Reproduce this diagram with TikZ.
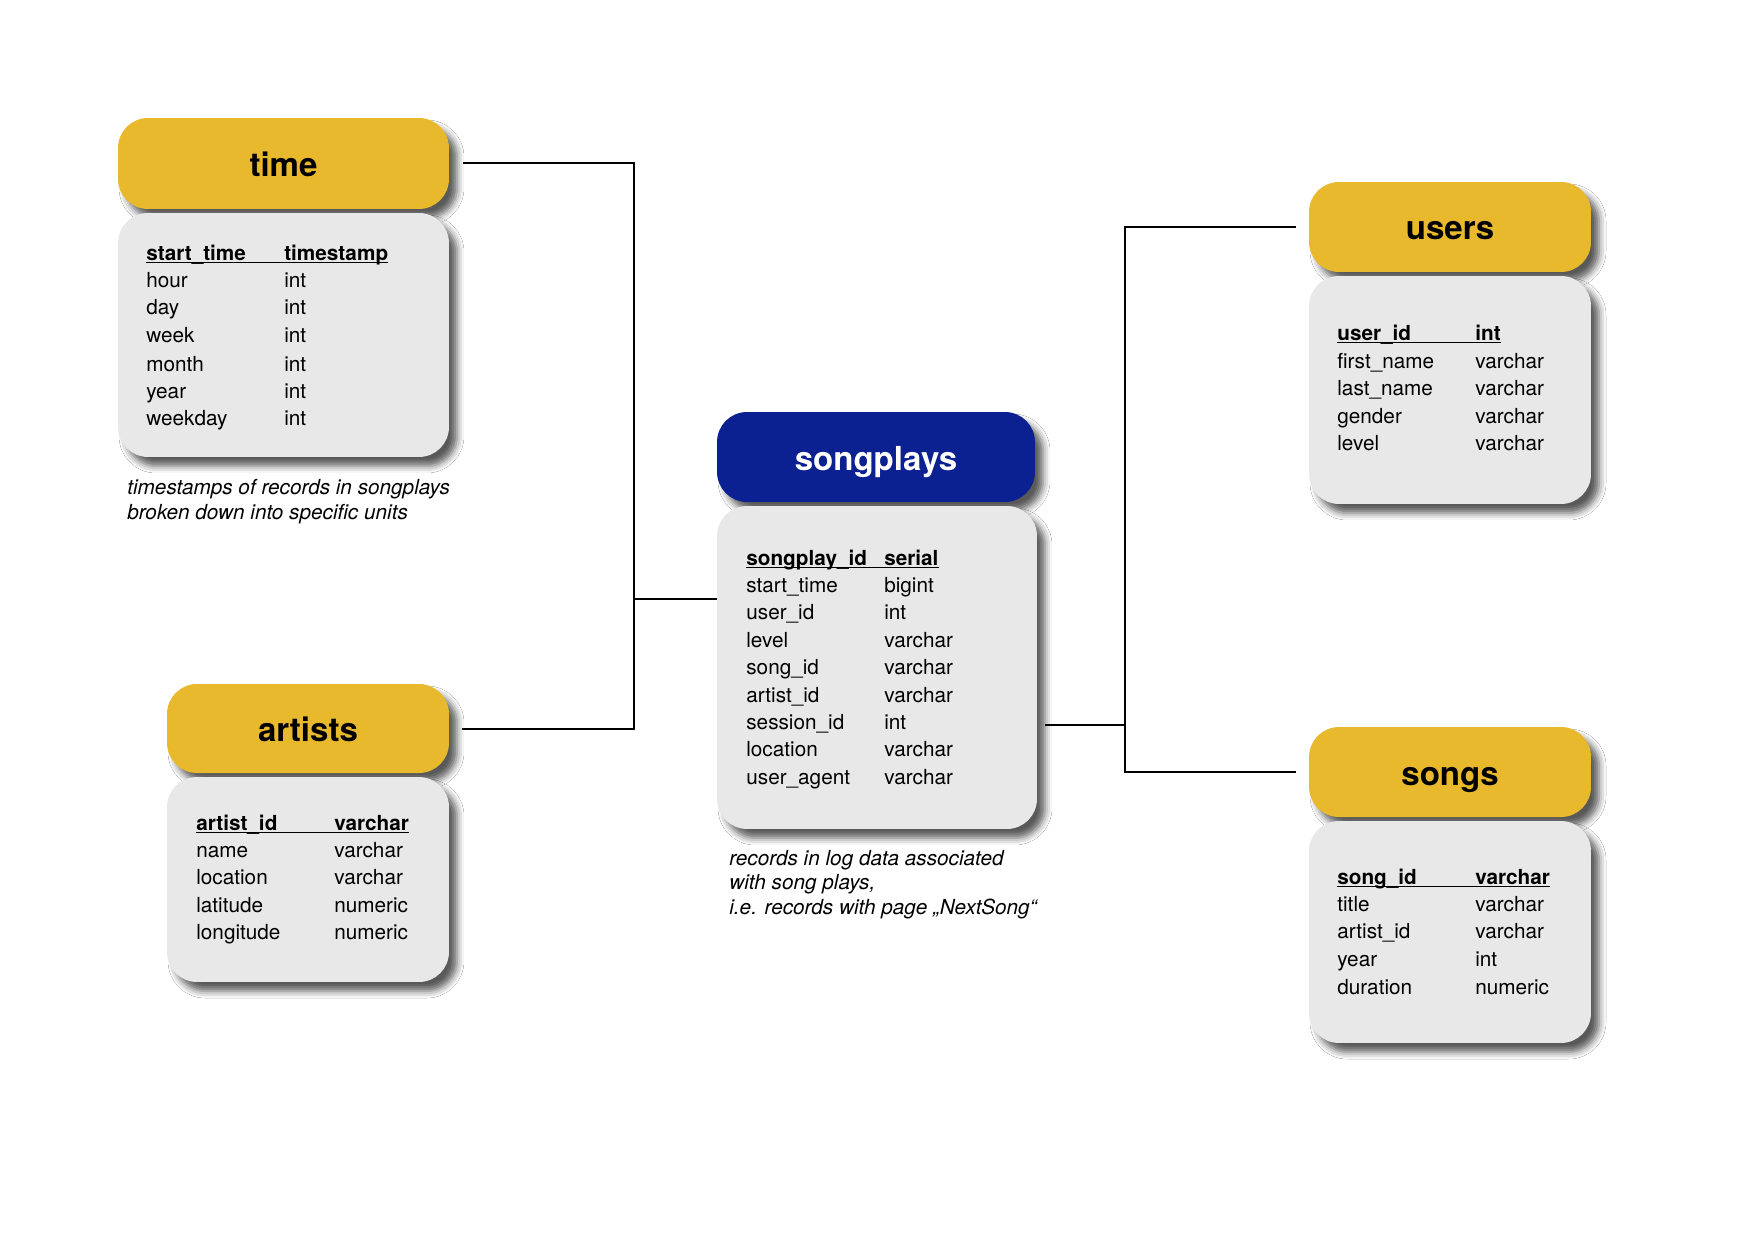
\documentclass[tikz,border=0pt]{standalone}
\usepackage{fontspec}
\setmainfont{TeX Gyre Heros}
\usetikzlibrary{shadows.blur}

\definecolor{tblyellow}{RGB}{232,185,44}
\definecolor{tblblue}{RGB}{12,33,145}
\definecolor{tblgray}{RGB}{232,232,232}

\begin{document}
\begin{tikzpicture}[x=0.02cm, y=-0.02cm,
        box/.style={rounded corners=0.6cm, inner sep=0pt,
            blur shadow={shadow xshift=0.16cm, shadow yshift=-0.18cm,
                shadow blur radius=0.14cm, shadow opacity=65}},
        head/.style={box, fill=tblyellow, minimum width=5.64cm, minimum height=1.8cm,
            font=\fontsize{18.8pt}{22pt}\selectfont\bfseries,
            text height=0.52cm, text depth=0pt},
        body/.style={box, fill=tblgray, minimum width=5.64cm},
        fields/.style={anchor=base west, inner sep=0pt,
            font=\fontsize{11.8pt}{15.6pt}\selectfont},
        note/.style={anchor=base west, inner sep=0pt, align=left,
            font=\fontsize{11.8pt}{13.8pt}\selectfont\itshape},
        link/.style={line width=0.04cm}]
        \useasboundingbox [fill=white] (0,0) rectangle (1753,1240);

        % time
        \node [head, minimum width=6.62cm, minimum height=1.82cm] (time) at (283.5,163.5) {time};
        \node [body, minimum width=6.62cm, minimum height=4.88cm] (timebody) at (283.5,335) {};
        \node [fields] (timecols) at (146,260) {\begin{tabular}[t]{@{}p{2.76cm}@{}l@{}}
            \multicolumn{2}{@{}l@{}}{\underbar{\makebox[2.76cm][l]{\textbf{start\_time}}\textbf{timestamp}}}\\
            hour & int\\
            day & int\\
            week & int\\[0.03cm]
            month & int\\
            year & int\\
            weekday & int
        \end{tabular}};
        % note: base is the last line
        \node [note] (timenote) at (127,519) {timestamps of records in songplays\\broken down into specific units};

        % artists
        \node [head, minimum height=1.78cm] (artists) at (308,728.5) {artists};
        \node [body, minimum height=4.1cm] (artistsbody) at (308,879.5) {};
        \node [fields] (artistscols) at (196,830) {\begin{tabular}[t]{@{}p{2.76cm}@{}l@{}}
            \multicolumn{2}{@{}l@{}}{\underbar{\makebox[2.76cm][l]{\textbf{artist\_id}}\textbf{varchar}}}\\
            name & varchar\\
            location & varchar\\
            latitude & numeric\\
            longitude & numeric
        \end{tabular}};

        % songplays
        \node [head, fill=tblblue, text=white, minimum width=6.36cm] (songplays) at (876,457) {songplays};
        \node [body, minimum width=6.4cm, minimum height=6.46cm] (spbody) at (877,667.5) {};
        \node [fields] (spcols) at (746,565) {\begin{tabular}[t]{@{}p{2.76cm}@{}l@{}}
            \multicolumn{2}{@{}l@{}}{\underbar{\makebox[2.76cm][l]{\textbf{songplay\_id}}\textbf{serial}}}\\
            start\_time & bigint\\
            user\_id & int\\
            level & varchar\\
            song\_id & varchar\\
            artist\_id & varchar\\
            session\_id & int\\
            location & varchar\\
            user\_agent & varchar
        \end{tabular}};
        \node [note] (spnote) at (729,914) {records in log data associated\\with song plays,\\i.e. records with page „NextSong“};

        % users
        \node [head] (users) at (1450,227) {users};
        \node [body, minimum height=4.56cm] (usersbody) at (1450,390) {};
        \node [fields] (userscols) at (1337,340) {\begin{tabular}[t]{@{}p{2.76cm}@{}l@{}}
            \multicolumn{2}{@{}l@{}}{\underbar{\makebox[2.76cm][l]{\textbf{user\_id}}\textbf{int}}}\\[0.02cm]
            first\_name & varchar\\
            last\_name & varchar\\
            gender & varchar\\
            level & varchar
        \end{tabular}};

        % songs
        \node [head] (songs) at (1450,772) {songs};
        \node [body, minimum height=4.44cm] (songsbody) at (1450,932) {};
        \node [fields] (songscols) at (1337,884) {\begin{tabular}[t]{@{}p{2.76cm}@{}l@{}}
            \multicolumn{2}{@{}l@{}}{\underbar{\makebox[2.76cm][l]{\textbf{song\_id}}\textbf{varchar}}}\\
            title & varchar\\
            artist\_id & varchar\\
            year & int\\[0.02cm]
            duration & numeric
        \end{tabular}};

        % connectors
        \coordinate (ljoin) at (634,599);
        \coordinate (rjoin) at (1125,725);
        \draw [link] ([xshift=0.28cm]time.east) -| (ljoin);
        \draw [link] ([xshift=0.26cm]artists.east) -| (ljoin);
        \draw [link] (ljoin) -- (ljoin -| spbody.west);
        \draw [link] ([xshift=0.16cm]spbody.east |- rjoin) -- (rjoin);
        \draw [link] (rjoin) |- ([xshift=-0.26cm]users.west);
        \draw [link] (rjoin) |- ([xshift=-0.26cm]songs.west);
    \end{tikzpicture}
\end{document}
